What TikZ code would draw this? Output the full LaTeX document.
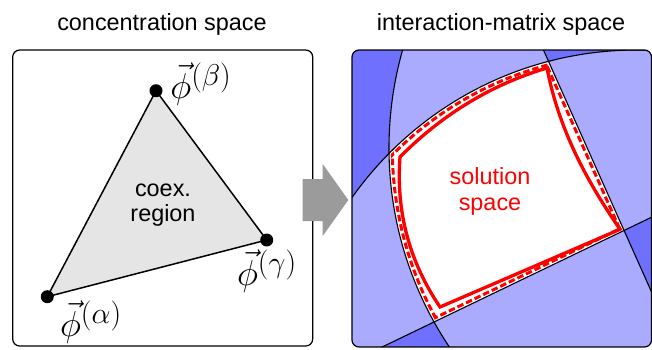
\documentclass[tikz,border=0pt]{standalone}
\usepackage{graphicx}
\usepackage{fontspec}
\setsansfont{Liberation Sans}
\definecolor{lightb}{RGB}{170,170,255}
\definecolor{darkb}{RGB}{112,112,255}
\definecolor{trigray}{RGB}{229,229,229}
\definecolor{arrowgray}{RGB}{155,155,155}
\definecolor{solred}{RGB}{255,0,0}
\newcommand{\bigphi}[1]{\scalebox{1.45}{\fontsize{24.88}{30}\selectfont$\vec{\phi}^{(#1)}$}}
\tikzset{
  panel/.style={draw=black, line width=1.2pt, rounded corners=7pt},
  sanstext/.style={font=\sffamily\fontsize{23.4}{28}\selectfont, anchor=base, inner sep=0pt},
  phil/.style={inner sep=0pt},
  vdot/.style={circle, fill=black, inner sep=0pt, minimum size=13pt},
  bound/.style={draw=black, line width=1.1pt},
  reddash/.style={draw=solred, line width=6pt, dash pattern=on 6.5pt off 3pt},
  redsolid/.style={draw=solred, line width=3.3pt, line join=miter},
}
\begin{document}
\begin{tikzpicture}[x=1pt,y=-1pt]
\useasboundingbox (0,0) rectangle (652,349);
% ---------- left panel
\draw[panel] (12.7,50) rectangle (312.7,346);
\node[sanstext] (t1) at (162,30) {concentration space};
\coordinate (pa) at (47.3,296.7);
\coordinate (pb) at (156,90.7);
\coordinate (pg) at (266.7,240);
\fill[trigray] (pa) -- (pb) -- (pg) -- cycle;
\draw[line width=1.5pt, line join=round] (pa) -- (pb) -- (pg) -- cycle;
\node[vdot] (a) at (pa) {};
\node[vdot] (b) at (pb) {};
\node[vdot] (g) at (pg) {};
\node[phil] (lb) at (201,84) {\bigphi{\beta}};
\node[phil] (lg) at (267,271) {\bigphi{\gamma}};
\node[phil] (la) at (91,322) {\bigphi{\alpha}};
\node[sanstext] (c1) at (163,196) {coex.};
\node[sanstext] (c2) at (163,221) {region};
% ---------- arrow
\fill[arrowgray] (302.7,179) -- (322.7,179) -- (322.7,164) -- (348.3,200) -- (322.7,236) -- (322.7,221) -- (302.7,221) -- cycle;
% ---------- right panel
\node[sanstext] (t2) at (501,30) {interaction-matrix space};
\begin{scope}
  \clip[rounded corners=7pt] (352,50) rectangle (651.5,347);
  \fill[darkb] (352,50) rectangle (651.5,347);
  % inside at least three constraints -> light
  \begin{scope}
    \clip (747,148) circle[radius=358];
    \clip (637,399) circle[radius=349];
    \clip (434,-195) -- (761,537) -- (-500,537) -- (-500,-195) -- cycle;
    \fill[lightb] (352,50) rectangle (651.5,347);
  \end{scope}
  \begin{scope}
    \clip (747,148) circle[radius=358];
    \clip (637,399) circle[radius=349];
    \clip (108,479) -- (924,86) -- (924,-300) -- (108,-300) -- cycle;
    \fill[lightb] (352,50) rectangle (651.5,347);
  \end{scope}
  \begin{scope}
    \clip (747,148) circle[radius=358];
    \clip (434,-195) -- (761,537) -- (-500,537) -- (-500,-195) -- cycle;
    \clip (108,479) -- (924,86) -- (924,-300) -- (108,-300) -- cycle;
    \fill[lightb] (352,50) rectangle (651.5,347);
  \end{scope}
  \begin{scope}
    \clip (637,399) circle[radius=349];
    \clip (434,-195) -- (761,537) -- (-500,537) -- (-500,-195) -- cycle;
    \clip (108,479) -- (924,86) -- (924,-300) -- (108,-300) -- cycle;
    \fill[lightb] (352,50) rectangle (651.5,347);
  \end{scope}
  % solution space -> white
  \begin{scope}
    \clip (747,148) circle[radius=358];
    \clip (637,399) circle[radius=349];
    \clip (434,-195) -- (761,537) -- (-500,537) -- (-500,-195) -- cycle;
    \clip (108,479) -- (924,86) -- (924,-300) -- (108,-300) -- cycle;
    \fill[white] (352,50) rectangle (651.5,347);
  \end{scope}
  % dashed inner boundary
  \begin{scope}
    \clip (747,148) circle[radius=356.2];
    \clip (637,399) circle[radius=347.2];
    \clip (432.36,-194.27) -- (759.36,537.73) -- (-500,537) -- (-500,-195) -- cycle;
    \clip (107.22,477.38) -- (923.22,84.38) -- (924,-300) -- (108,-300) -- cycle;
    \draw[reddash] (747,148) circle[radius=356.2];
    \draw[reddash] (637,399) circle[radius=347.2];
    \draw[reddash] (432.36,-194.27) -- (759.36,537.73);
    \draw[reddash] (107.22,477.38) -- (923.22,84.38);
  \end{scope}
  % boundaries
  \draw[bound] (747,148) circle[radius=358];
  \draw[bound] (637,399) circle[radius=349];
  \draw[bound] (434,-195) -- (761,537);
  \draw[bound] (108,479) -- (924,86);
\end{scope}
\draw[redsolid] (400,157) .. controls (442.1,114.4) and (491.7,84.4) .. (547,68)
  .. controls (558.4,128) and (586,180.1) .. (620,229.3)
  -- (440,307) .. controls (409.3,261.6) and (395.9,211.6) .. cycle;
\node[sanstext, text=solred] (s1) at (490,184) {solution};
\node[sanstext, text=solred] (s2) at (490,210) {space};
\draw[panel] (352,50) rectangle (651.5,347);
\end{tikzpicture}
\end{document}
